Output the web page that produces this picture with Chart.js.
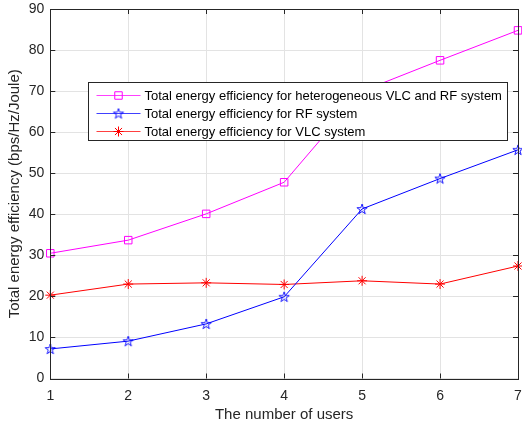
<!DOCTYPE html>
<html>
<head>
<meta charset="utf-8">
<script src="https://cdn.jsdelivr.net/npm/chart.js@4/dist/chart.umd.min.js"></script>
<style>
  html, body { margin: 0; padding: 0; background: #fff; }
  canvas { display: block; }
</style>
</head>
<body>
<canvas id="ee" width="522" height="426"></canvas>
<script>
// ── Data ─────────────────────────────────────────────────────────────────────

const USERS   = [1, 2, 3, 4, 5, 6, 7];
const HETERO  = [30.5, 33.7, 40.1, 47.8, 70.0, 77.5, 84.8];
const RF      = [7.2, 9.1, 13.3, 19.9, 41.3, 48.7, 55.7];
const VLC     = [20.3, 23.0, 23.3, 22.9, 23.8, 23.0, 27.4];
const LABELS  = [
  'Total energy efficiency for heterogeneous VLC and RF system',
  'Total energy efficiency for RF system',
  'Total energy efficiency for VLC system',
];

const AXIS_COLOR = '#262626';
const GRID_COLOR = '#e3e3e3';
const FONT = "'Liberation Sans', Arial, Helvetica, sans-serif";

// ── Pentagram marker (canvas used as pointStyle) ─────────────────────────────

function pentagram(color) {
  const c = document.createElement('canvas');
  c.width = 14; c.height = 14;
  const g = c.getContext('2d');
  const cx = 7, cy = 7.4, ro = 5.4, ri = ro * 0.382;
  g.beginPath();
  for (let i = 0; i < 10; i++) {
    const r = i % 2 ? ri : ro;
    const a = -Math.PI / 2 + i * Math.PI / 5;
    const x = cx + r * Math.cos(a), y = cy + r * Math.sin(a);
    i ? g.lineTo(x, y) : g.moveTo(x, y);
  }
  g.closePath();
  g.strokeStyle = color;
  g.lineWidth = 0.9;
  g.stroke();
  return c;
}

function series(label, data, color, style, radius) {
  return {
    label,
    data: USERS.map((u, i) => ({ x: u, y: data[i] })),
    borderColor: color,
    backgroundColor: color,
    borderWidth: 1,
    pointStyle: style,
    pointRadius: radius,
    pointHoverRadius: radius,
    pointBorderColor: color,
    pointBackgroundColor: 'rgba(0,0,0,0)',
    pointBorderWidth: 1,
    tension: 0,
    clip: false,
  };
}

// keep label overhang from shrinking the plot area
function noOverhang(s) {
  s.paddingLeft = s.paddingRight = s.paddingTop = s.paddingBottom = 0;
}

// ── Box, inward ticks and in-plot legend ─────────────────────────────────────

const boxPlugin = {
  id: 'box',
  afterDatasetsDraw(chart) {
    const { ctx, chartArea: a, scales: { x, y } } = chart;
    const T = 5;
    ctx.save();
    ctx.strokeStyle = AXIS_COLOR;
    ctx.lineWidth = 1;
    ctx.beginPath();
    x.ticks.forEach(t => {
      const px = Math.round(x.getPixelForValue(t.value)) + 0.5;
      ctx.moveTo(px, a.bottom); ctx.lineTo(px, a.bottom - T);
      ctx.moveTo(px, a.top);    ctx.lineTo(px, a.top + T);
    });
    y.ticks.forEach(t => {
      const py = Math.round(y.getPixelForValue(t.value)) + 0.5;
      ctx.moveTo(a.left, py);  ctx.lineTo(a.left + T, py);
      ctx.moveTo(a.right, py); ctx.lineTo(a.right - T, py);
    });
    ctx.stroke();
    ctx.strokeRect(Math.round(a.left) + 0.5, Math.round(a.top) + 0.5,
                   Math.round(a.right - a.left), Math.round(a.bottom - a.top));
    ctx.restore();
  },
  afterDraw(chart) {
    const { ctx, chartArea: a } = chart;
    const sets = chart.data.datasets;
    ctx.save();
    ctx.font = '13px ' + FONT;
    const tw = Math.max(...sets.map(d => ctx.measureText(d.label).width));
    const bx = Math.round(a.left + 38) + 0.5, by = Math.round(a.top + 73) + 0.5;
    const bw = Math.round(56 + tw + 6), bh = 58;
    ctx.fillStyle = '#fff';
    ctx.fillRect(bx, by, bw, bh);
    ctx.strokeStyle = AXIS_COLOR;
    ctx.lineWidth = 1;
    ctx.strokeRect(bx, by, bw, bh);
    sets.forEach((d, i) => {
      const ry = Math.round(by + 12.5 + i * 18) + 0.5;
      ctx.strokeStyle = d.borderColor;
      ctx.globalAlpha = 0.75;
      ctx.beginPath();
      ctx.moveTo(bx + 8, ry); ctx.lineTo(bx + 52, ry);
      ctx.stroke();
      ctx.globalAlpha = 1;
      ctx.fillStyle = 'rgba(0,0,0,0)';
      Chart.helpers.drawPoint(ctx, {
        pointStyle: d.pointStyle, radius: d.pointRadius, rotation: 0, borderWidth: 1,
      }, bx + 30, ry);
      ctx.fillStyle = '#000';
      ctx.textBaseline = 'middle';
      ctx.fillText(d.label, bx + 56, ry + 0.5);
    });
    ctx.restore();
  },
};

// ── Chart ────────────────────────────────────────────────────────────────────

new Chart(document.getElementById('ee'), {
  type: 'line',
  data: {
    datasets: [
      series(LABELS[0], HETERO, '#ff00ff', 'rect', 5.3),
      series(LABELS[1], RF, '#0000ff', pentagram('#0000ff'), 6),
      series(LABELS[2], VLC, '#ff0000', 'star', 5),
    ],
  },
  options: {
    responsive: false,
    animation: false,
    events: [],
    layout: { autoPadding: false, padding: { top: 9, right: 4, left: 0, bottom: 0 } },
    plugins: { legend: { display: false }, tooltip: { enabled: false } },
    scales: {
      x: {
        type: 'linear',
        min: 1, max: 7,
        afterFit: s => { s.height = 47.5; noOverhang(s); },
        grid: { color: GRID_COLOR, drawTicks: false },
        border: { display: false },
        ticks: {
          stepSize: 1, maxRotation: 0, autoSkip: false, padding: 9,
          color: AXIS_COLOR, font: { family: FONT, size: 14 },
        },
        title: {
          display: true, text: 'The number of users', color: AXIS_COLOR,
          font: { family: FONT, size: 15 }, padding: { top: 2, bottom: 2 },
        },
      },
      y: {
        min: 0, max: 90,
        afterFit: s => { s.width = 50.3; noOverhang(s); },
        grid: { color: GRID_COLOR, drawTicks: false },
        border: { display: false },
        ticks: {
          stepSize: 10, padding: 6,
          color: AXIS_COLOR, font: { family: FONT, size: 14 },
        },
        title: {
          display: true, text: 'Total energy efficiency (bps/Hz/Joule)', color: AXIS_COLOR,
          font: { family: FONT, size: 15 }, padding: { top: 6, bottom: 2 },
        },
      },
    },
  },
  plugins: [boxPlugin],
});
</script>
</body>
</html>
